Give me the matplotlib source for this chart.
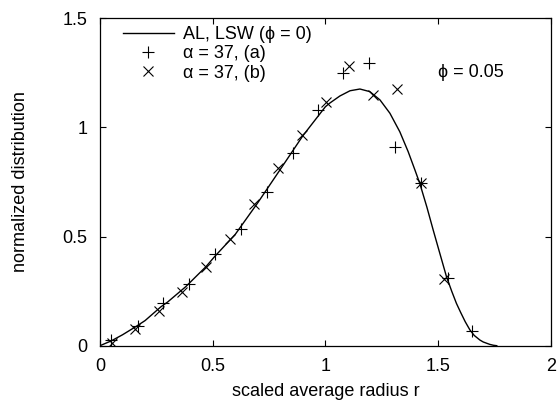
import matplotlib
matplotlib.use("Agg")
import matplotlib.pyplot as plt

plt.rcParams['font.family'] = ['Liberation Sans', 'DejaVu Sans']

# Theoretical curve (AL, LSW, phi = 0)
curve_r = [0.0, 0.05, 0.10, 0.16, 0.20, 0.27, 0.30, 0.38, 0.47, 0.51, 0.60, 0.70,
           0.80, 0.90, 1.00, 1.02, 1.064, 1.109, 1.153, 1.197, 1.242, 1.286, 1.33,
           1.367, 1.397, 1.419, 1.45, 1.478, 1.50, 1.537, 1.56, 1.581, 1.60, 1.62,
           1.641, 1.66, 1.685, 1.70, 1.729, 1.745, 1.76]
curve_f = [0.0, 0.022, 0.05, 0.088, 0.115, 0.178, 0.20, 0.27, 0.362, 0.41, 0.51, 0.655,
           0.808, 0.962, 1.095, 1.112, 1.144, 1.168, 1.176, 1.164, 1.126, 1.065, 0.98,
           0.889, 0.805, 0.742, 0.635, 0.53, 0.45, 0.316, 0.25, 0.194, 0.152, 0.11,
           0.072, 0.047, 0.026, 0.017, 0.006, 0.002, 0.0]

# alpha = 37, (a)
a_r = [0.049, 0.167, 0.281, 0.396, 0.51, 0.624, 0.739, 0.854, 0.968, 1.079, 1.194,
       1.308, 1.422, 1.542, 1.648]
a_f = [0.026, 0.09, 0.194, 0.281, 0.418, 0.535, 0.705, 0.884, 1.08, 1.251, 1.296,
       0.912, 0.744, 0.309, 0.067]

# alpha = 37, (b)
b_r = [0.052, 0.155, 0.263, 0.365, 0.47, 0.576, 0.685, 0.791, 0.894, 1.001, 1.106,
       1.212, 1.316, 1.422, 1.525]
b_f = [0.014, 0.075, 0.16, 0.247, 0.36, 0.487, 0.647, 0.813, 0.965, 1.118, 1.281,
       1.148, 1.175, 0.744, 0.304]

x_ticks = [0, 0.5, 1, 1.5, 2]
x_ticklabels = ['0', '0.5', '1', '1.5', '2']
y_ticks = [0, 0.5, 1, 1.5]
y_ticklabels = ['0', '0.5', '1', '1.5']

FS = 13

fig = plt.figure(figsize=(5.57, 4.03), dpi=100)
ax = fig.add_axes([0.1795, 0.1422, 0.8095, 0.8124])

ax.plot(curve_r, curve_f, color='black', lw=1.0, label='AL, LSW (\u03d5 = 0)')
ax.plot(a_r, a_f, ls='none', marker='+', ms=8, mew=0.8, color='black',
        label='\u03b1 = 37, (a)')
ax.plot(b_r, b_f, ls='none', marker='x', ms=7, mew=0.8, color='black',
        label='\u03b1 = 37, (b)')

ax.set_xlim(0, 2)
ax.set_ylim(0, 1.5)
ax.set_xticks(x_ticks)
ax.set_xticklabels(x_ticklabels)
ax.set_yticks(y_ticks)
ax.set_yticklabels(y_ticklabels)
ax.tick_params(direction='in', length=4, width=0.8, top=True, right=True,
               labelsize=FS, colors='black')
ax.tick_params(axis='x', pad=9)
ax.tick_params(axis='y', pad=9)
for s in ax.spines.values():
    s.set_linewidth(0.9)

ax.set_xlabel('scaled average radius r', fontsize=FS, va='center', ha='center')
ax.xaxis.set_label_coords(0.5, -0.14)
ax.set_ylabel('normalized distribution', fontsize=FS, va='center', ha='center')
ax.yaxis.set_label_coords(-0.177, 0.5)

ax.text(1.5, 1.25, '\u03d5 = 0.05', fontsize=FS, va='center', ha='left')

leg = ax.legend(loc='upper left', frameon=False, fontsize=FS, handlelength=2.8,
                handletextpad=0.55, labelspacing=0.12, borderaxespad=0.0,
                borderpad=0.0, bbox_to_anchor=(23 / 451, 1 - 8 / 327.4))

fig.savefig('out.png', dpi=100)
